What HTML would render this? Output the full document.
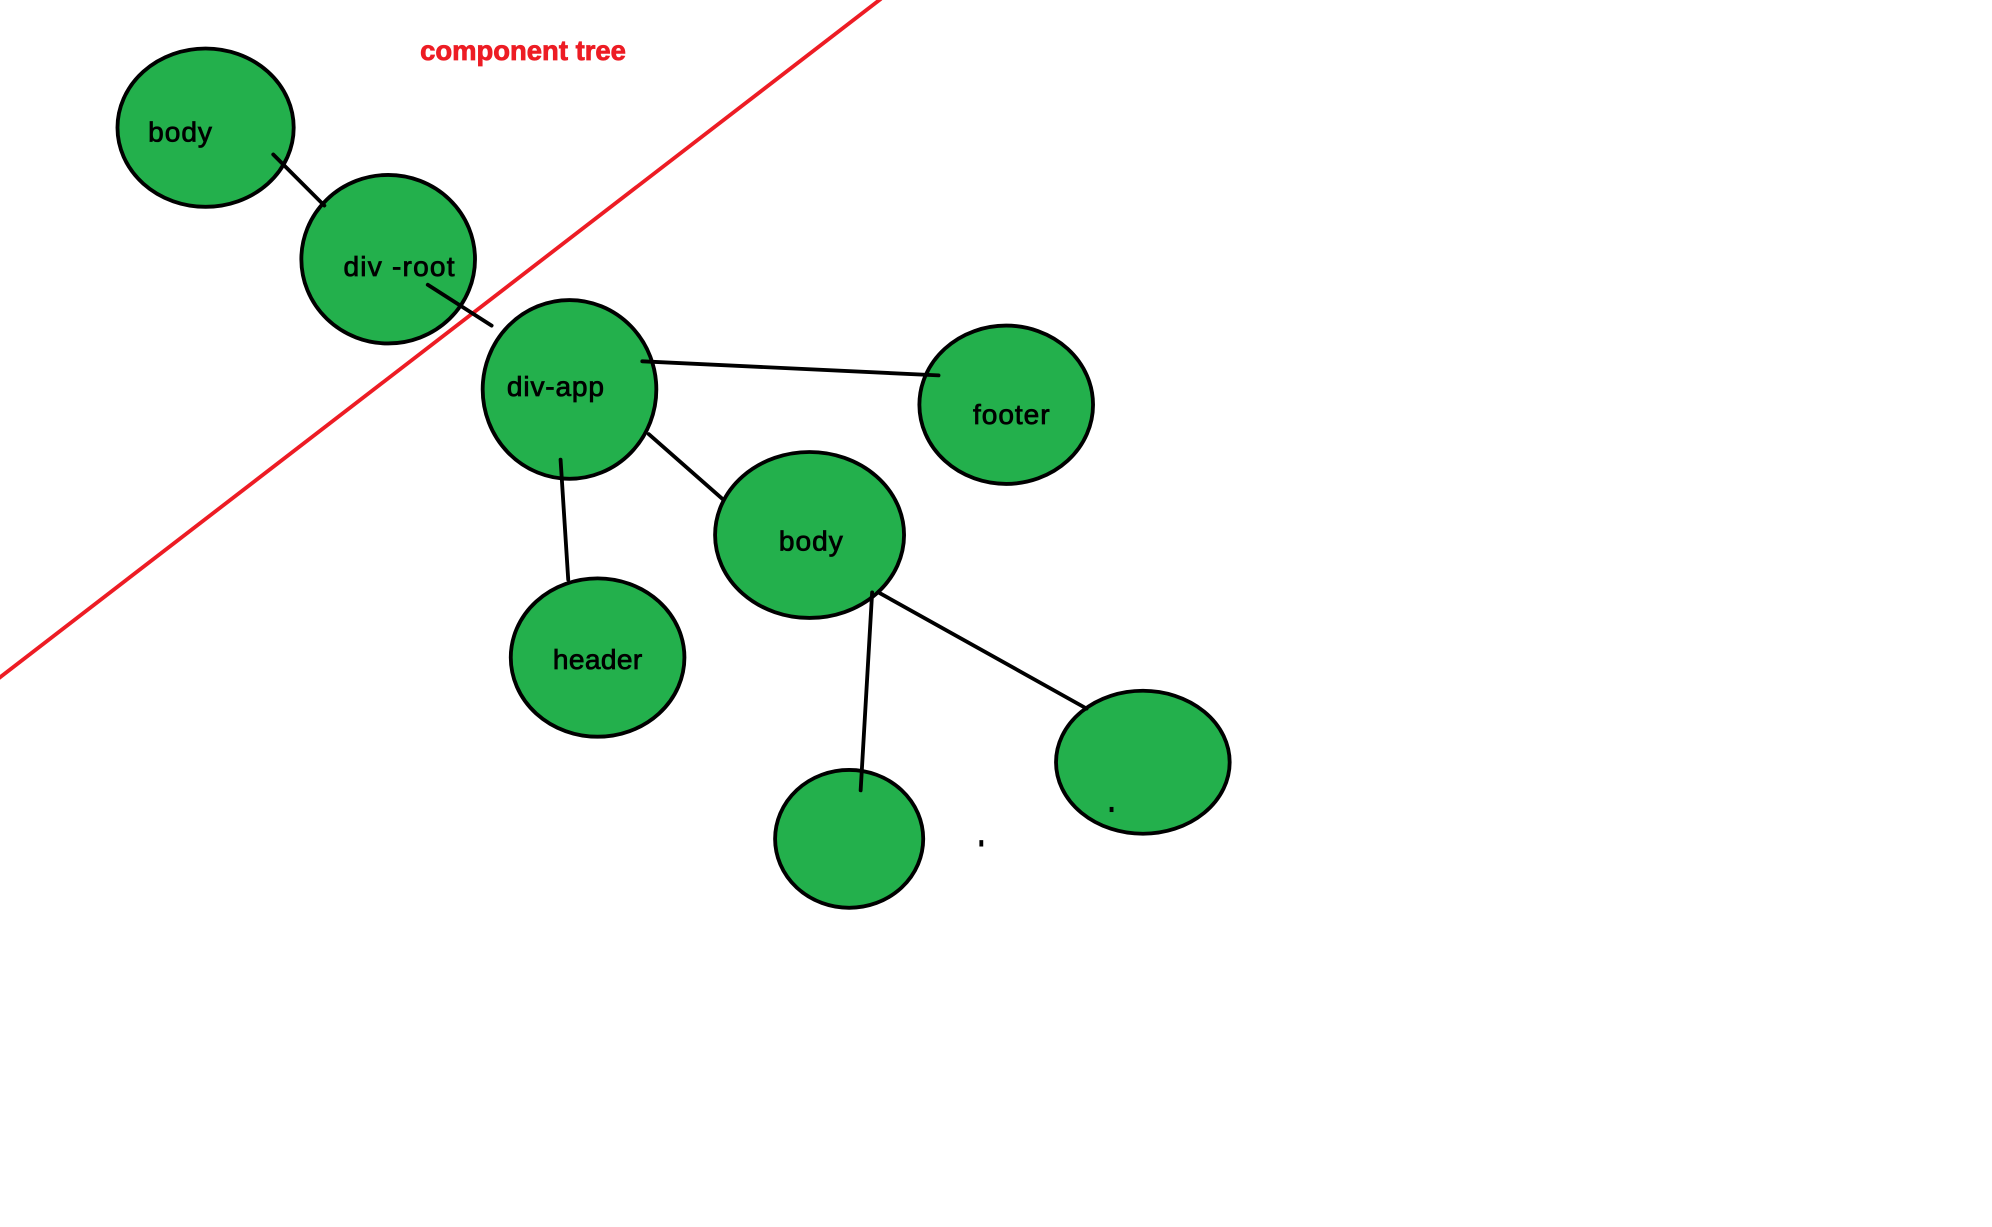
<!DOCTYPE html>
<html><head><meta charset="utf-8"><style>
html,body{margin:0;padding:0;background:#fff;width:1992px;height:1227px;overflow:hidden}
svg{display:block}
text{font-family:"Liberation Sans",sans-serif;font-size:22px;fill:#000;stroke:#000;stroke-width:0.6}
</style></head><body>
<svg width="1992" height="1227" viewBox="0 0 1560 961" preserveAspectRatio="none">
<rect width="1560" height="961" fill="#fff"/>
<g transform="translate(-2,-1)">
<g fill="#23b04c" stroke="#000" stroke-width="3">
<ellipse cx="163" cy="101" rx="69" ry="62"/>
<ellipse cx="306" cy="204" rx="68" ry="66"/>
<ellipse cx="448" cy="306" rx="68" ry="70"/>
<ellipse cx="790" cy="318" rx="68" ry="62"/>
<ellipse cx="636" cy="420" rx="74" ry="65"/>
<ellipse cx="470" cy="516" rx="68" ry="62"/>
<ellipse cx="667" cy="658" rx="58" ry="54"/>
<ellipse cx="897" cy="598" rx="68" ry="56"/>
</g>
<line x1="0" y1="533" x2="692" y2="0" stroke="#ed1c24" stroke-width="3"/>
<g stroke="#000" stroke-width="3" stroke-linecap="round">
<line x1="216" y1="122" x2="256" y2="162"/>
<line x1="337" y1="224" x2="387" y2="256"/>
<line x1="505" y1="284" x2="737" y2="295"/>
<line x1="510" y1="341" x2="568" y2="392"/>
<line x1="441" y1="361" x2="447" y2="455"/>
<line x1="685" y1="465" x2="676" y2="620"/>
<line x1="690" y1="465" x2="853" y2="556"/>
</g>
<rect x="769" y="659" width="3" height="5" fill="#000"/>
<rect x="871" y="633" width="3" height="4" fill="#000"/>
<text x="331" y="48" style="fill:#ed1c24;stroke:#ed1c24;font-weight:bold;font-size:21.5px">component tree</text>
<text x="118" y="112" textLength="50">body</text>
<text x="271" y="217" textLength="87">div -root</text>
<text x="399" y="311" textLength="76">div-app</text>
<text x="764" y="333" textLength="60">footer</text>
<text x="612" y="432" textLength="50">body</text>
<text x="435" y="525" textLength="70">header</text>
</g>
</svg>
</body></html>
